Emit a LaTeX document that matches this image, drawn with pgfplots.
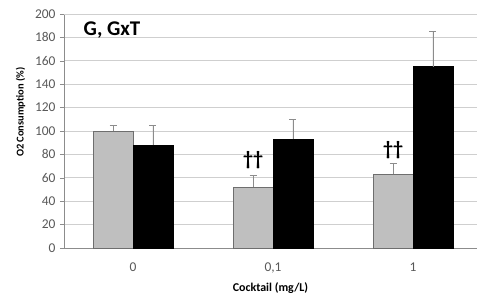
\documentclass[border=0pt]{standalone}
\usepackage{pgfplots}
\pgfplotsset{compat=1.18}
\usepackage{fontspec}
\setmainfont{Carlito}
\definecolor{tickgray}{HTML}{595959}
\definecolor{gridgray}{HTML}{CFCFCF}
\definecolor{axgray}{HTML}{8C8C8C}
\definecolor{barg}{HTML}{BFBFBF}
\definecolor{barborder}{HTML}{6E6E6E}
\begin{document}
\begin{tikzpicture}
\begin{axis}[
  name=ax,
  scale only axis,
  width=413bp, height=234bp,
  xmin=-0.493, xmax=2.457,
  ymin=0, ymax=200,
  ybar=0pt, bar width=0.285,
  ytick={0,20,...,200},
  xtick={0,1,2},
  xticklabels={0,{0,1},1},
  x tick style={draw=none},
  y tick style={axgray, line width=0.6pt},
  major tick length=4bp,
  tick align=outside,
  axis lines*=left,
  axis line style={axgray, line width=0.6pt},
  ymajorgrids,
  grid style={gridgray, line width=0.8pt},
  ticklabel style={font=\fontsize{13.5}{15}\selectfont, text=tickgray},
  /pgf/number format/assume math mode=true,
  yticklabel style={xshift=-1bp},
  xticklabel style={yshift=-7bp},
  ylabel={\bfseries O2 Consumption (\%)},
  ylabel style={font=\fontsize{10.5}{12}\selectfont, at={(ticklabel cs:0.58)}, yshift=3bp},
  xlabel={\bfseries Cocktail (mg/L)},
  xlabel style={font=\fontsize{12}{13}\selectfont, yshift=-3bp},
  clip=false,
]
\draw[gridgray, line width=0.8pt] (rel axis cs:0,1) -- (rel axis cs:1,1);
\addplot[fill=barg, draw=barborder, line width=0.6pt,
  error bars/.cd, y dir=plus, y explicit, error mark=|,
  error bar style={axgray, line width=0.7pt},
  error mark options={axgray, mark size=3.5bp, line width=0.7pt}]
  coordinates {(0,100) +- (0,5) (1,52) +- (0,10) (2,63) +- (0,9)};
\addplot[fill=black, draw=black, line width=0.6pt,
  error bars/.cd, y dir=plus, y explicit, error mark=|,
  error bar style={axgray, line width=0.7pt},
  error mark options={axgray, mark size=3.5bp, line width=0.7pt}]
  coordinates {(0,88) +- (0,17) (1,93) +- (0,17) (2,155) +- (0,30)};
\node[font=\fontsize{21}{22}\selectfont\bfseries] at (axis cs:-0.15,186) {G, GxT};
\node[font=\fontsize{20}{21}\selectfont\bfseries] at (axis cs:0.857,75) {††};
\node[font=\fontsize{20}{21}\selectfont\bfseries] at (axis cs:1.857,84) {††};
\end{axis}
\pgfresetboundingbox
\path[use as bounding box] ([xshift=-64bp,yshift=-47bp]ax.south west) rectangle ([yshift=14bp]ax.north east);
\end{tikzpicture}
\end{document}
